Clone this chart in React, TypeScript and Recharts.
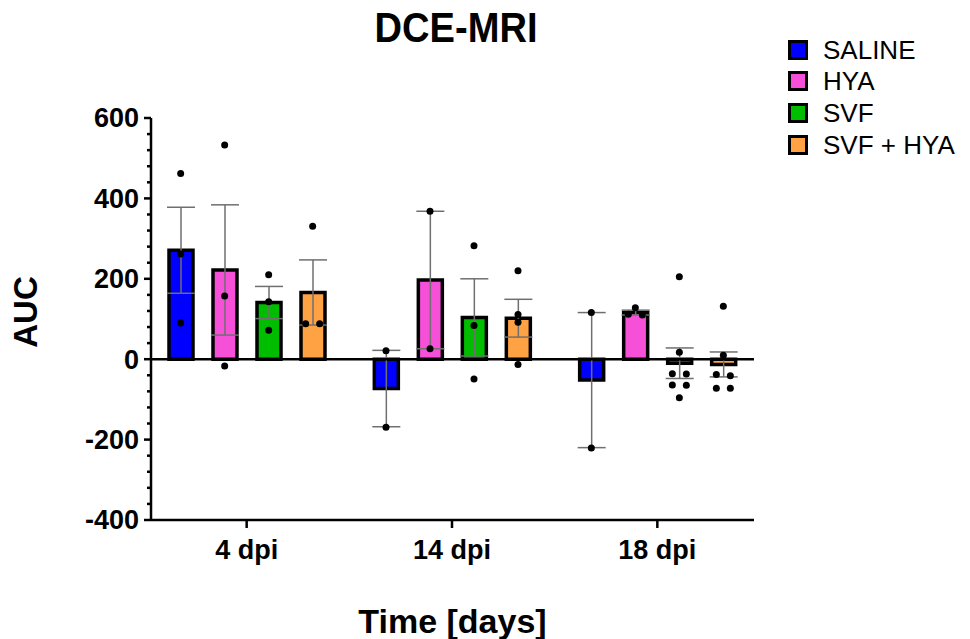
import React from "react";
import {
  ComposedChart,
  Bar,
  Scatter,
  XAxis,
  YAxis,
  ErrorBar,
  ReferenceLine,
  Legend
} from "recharts";

const FONT = "'Liberation Sans', Arial, sans-serif";

const days = ["4 dpi", "14 dpi", "18 dpi"];

// bar heights (mean) and SEM
const salineMean = [271, -73, -52];
const salineSem = [107, 95, 168];
const hyaMean = [222, 197, 116];
const hyaSem = [162, 171, 6];
const svfMean = [141, 104, -10];
const svfSem = [40, 96, 38];
const svfHyaMean = [166, 102, -13];
const svfHyaSem = [81, 47, 31];

// individual animals, one list per day
const salinePoints = [[462, 262, 90], [21, -169], [116, -221]];
const hyaPoints = [[533, 157, -17], [368, 26], [128, 112, 110]];
const svfPoints = [[210, 143, 72], [282, 84, -49], [205, 17, -37, -36, -65, -64, -96]];
const svfHyaPoints = [[331, 88, 88], [220, 111, 92, -13], [132, 10, -38, -41, -72, -72]];

const yTicks = [
  -400, -360, -320, -280, -240, -200, -160, -120, -80, -40, 0, 40, 80, 120,
  160, 200, 240, 280, 320, 360, 400, 440, 480, 520, 560, 600
];

const series = [
  { key: "saline", name: "SALINE", color: "#0000ff", mean: salineMean, sem: salineSem, points: salinePoints },
  { key: "hya", name: "HYA", color: "#f550d7", mean: hyaMean, sem: hyaSem, points: hyaPoints },
  { key: "svf", name: "SVF", color: "#00bd00", mean: svfMean, sem: svfSem, points: svfPoints },
  { key: "svfHya", name: "SVF + HYA", color: "#ffa243", mean: svfHyaMean, sem: svfHyaSem, points: svfHyaPoints }
];

const BAR_SIZE = 24;
const BAR_GAP = 20;

const rows = days.map((day, i) => {
  const r: any = { day };
  series.forEach((s) => {
    r[s.key] = s.mean[i];
    r[s.key + "Err"] = s.sem[i];
  });
  return r;
});

// spread dots that would overlap sideways (like a column scatter)
function spread(values: number[]) {
  const order = values.map((v, i) => ({ v, i })).sort((a, b) => b.v - a.v);
  const out = new Array(values.length).fill(0);
  let start = 0;
  for (let k = 1; k <= order.length; k++) {
    if (k === order.length || order[k - 1].v - order[k].v >= 16) {
      const n = k - start;
      for (let j = 0; j < n; j++) out[order[start + j].i] = (j - (n - 1) / 2) * 14;
      start = k;
    }
  }
  return out;
}

const dotData = series.map((s, si) =>
  s.points.flatMap((vals, di) => {
    const off = spread(vals);
    return vals.map((v, j) => ({
      day: days[di],
      v,
      dx: (si - 1.5) * (BAR_SIZE + BAR_GAP) + off[j]
    }));
  })
);

const Dot = (p: any) => (
  <circle cx={p.cx + p.payload.dx} cy={p.cy} r={3.5} fill="#000" />
);

const YTick = (props: any) => {
  const { x, y, payload } = props;
  const major = payload.value % 200 === 0;
  return (
    <g>
      <line x1={x - (major ? 7 : 4)} x2={x} y1={y} y2={y} stroke="#000" strokeWidth={2.5} />
      {major && (
        <text x={x - 12} y={y} dy="0.35em" textAnchor="end" fontSize={27} fontWeight="bold" fill="#000" fontFamily={FONT}>
          {payload.value}
        </text>
      )}
    </g>
  );
};

const LegendBox = () => (
  <div style={{ fontFamily: FONT }}>
    {series.map((s) => (
      <div key={s.key} style={{ display: "flex", alignItems: "center", height: 31.6 }}>
        <span
          style={{
            display: "inline-block",
            width: 14,
            height: 14,
            background: s.color,
            border: "3px solid #000",
            marginRight: 15
          }}
        />
        <span style={{ fontSize: 26, lineHeight: 1, color: "#000" }}>{s.name}</span>
      </div>
    ))}
  </div>
);

export default function App() {
  return (
    <div style={{ position: "absolute", left: 0, top: 0, width: 970, height: 639, background: "#fff" }}>
      <ComposedChart
        width={970}
        height={639}
        data={rows}
        barSize={BAR_SIZE}
        barGap={BAR_GAP}
        margin={{ top: 118, right: 216, bottom: 79, left: 0 }}
        style={{ fontFamily: FONT }}
      >
        <text x={456} y={42} textAnchor="middle" fontSize={43} fontWeight="bold" fill="#000" fontFamily={FONT} textLength={163} lengthAdjust="spacingAndGlyphs">
          DCE-MRI
        </text>
        <text x={37} y={312} transform="rotate(-90 37 312)" textAnchor="middle" fontSize={33} fontWeight="bold" fill="#000" fontFamily={FONT}>
          AUC
        </text>
        <XAxis
          dataKey="day"
          type="category"
          allowDuplicatedCategory={false}
          padding={{ left: -7, right: -6 }}
          height={40}
          axisLine={{ stroke: "#000", strokeWidth: 2.5 }}
          tickLine={{ stroke: "#000", strokeWidth: 2.5 }}
          tickSize={8}
          tickMargin={12}
          tick={{ fontSize: 27, fontWeight: "bold", fill: "#000", fontFamily: FONT }}
          label={{ value: "Time [days]", position: "bottom", offset: 49, fontSize: 34, fontWeight: "bold", fill: "#000", fontFamily: FONT }}
        />
        <YAxis
          type="number"
          width={151}
          domain={[-400, 600]}
          allowDataOverflow
          ticks={yTicks}
          interval={0}
          tickLine={false}
          tickSize={0}
          tickMargin={0}
          tick={<YTick />}
          axisLine={{ stroke: "#000", strokeWidth: 2.5 }}
        />
        {series.map((s) => (
          <Bar key={s.key} dataKey={s.key} name={s.name} fill={s.color} stroke="#000" strokeWidth={3.5} isAnimationActive={false}>
            <ErrorBar dataKey={s.key + "Err"} width={14} stroke="#6f6f6f" strokeWidth={1.5} direction="y" isAnimationActive={false} />
          </Bar>
        ))}
        <ReferenceLine y={0} stroke="#000" strokeWidth={2.5} />
        {series.map((s, si) => (
          <Scatter key={s.key + "pts"} name={s.name} data={dotData[si]} dataKey="v" shape={Dot} isAnimationActive={false} legendType="none" />
        ))}
        <Legend
          layout="vertical"
          align="center"
          verticalAlign="middle"
          content={<LegendBox />}
          wrapperStyle={{ left: 788, top: 34, width: "auto", height: "auto" }}
        />
      </ComposedChart>
    </div>
  );
}
